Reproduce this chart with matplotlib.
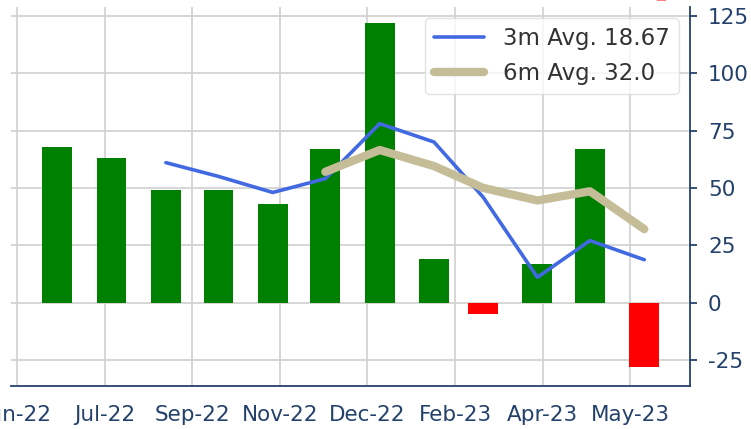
import matplotlib
matplotlib.use("Agg")
import matplotlib.pyplot as plt
import matplotlib.dates as mdates
import matplotlib.ticker as mticker
import pandas as pd
import numpy as np

# ---- data ----
months = ["2022-06-30", "2022-07-31", "2022-08-31", "2022-09-30", "2022-10-31", "2022-11-30",
          "2022-12-31", "2023-01-31", "2023-02-28", "2023-03-31", "2023-04-30", "2023-05-31"]
values = [68, 63, 49, 49, 43, 67, 122, 19, -5, 17, 67, -28]

avg3_months = months[2:]
avg3_values = [61, 55, 48, 54, 78, 70, 46, 11, 27, 18.67]
avg6_months = months[5:]
avg6_values = [57, 66.5, 59.5, 50, 44.5, 48.5, 32.0]

label3 = "3m Avg. 18.67"
label6 = "6m Avg. 32.0"

NAVY = "#24416B"

plt.rcParams['font.family'] = ['DejaVu Sans']
plt.rcParams['axes.unicode_minus'] = False

fig = plt.figure(figsize=(7.51, 4.29), dpi=100)
ax = fig.add_axes([0.0153, 0.1002, 0.9188 - 0.0153, 0.9844 - 0.1002])

x = pd.to_datetime(months)
colors = ["green" if v >= 0 else "red" for v in values]
ax.bar(x, values, width=17, color=colors, zorder=2)

ax.plot(pd.to_datetime(avg3_months), avg3_values, color="#4169E1", lw=2.6,
        label=label3, zorder=3, solid_capstyle='round')
ax.plot(pd.to_datetime(avg6_months), avg6_values, color="#C5BD98", lw=6,
        label=label6, zorder=3, solid_capstyle='round')

ax.set_ylim(-36.4, 129)
ax.xaxis.set_major_locator(mticker.MultipleLocator(50))
ax.xaxis.set_major_formatter(mdates.DateFormatter('%b-%y'))

ax.yaxis.tick_right()
ax.yaxis.set_major_locator(mticker.MultipleLocator(25))
ax.grid(True, color="#D0D0D0", lw=1.2, zorder=0)
ax.set_axisbelow(True)

for s in ["left", "top"]:
    ax.spines[s].set_visible(False)
for s in ["right", "bottom"]:
    ax.spines[s].set_color(NAVY)
    ax.spines[s].set_linewidth(1.3)

ax.tick_params(axis='y', colors=NAVY, labelsize=15.5, length=5, width=1.3, pad=8)
ax.tick_params(axis='x', colors=NAVY, labelsize=15.5, length=0, pad=14)

leg = ax.legend(loc="upper right", fontsize=16.5, framealpha=0.8,
                edgecolor="#DDDDDD", handlelength=2.2, borderaxespad=0.5)
for t in leg.get_texts():
    t.set_color("#333333")

fig.text(0.880, 0.988, "1", color="#FF8080", fontsize=16, ha="center", va="bottom")

fig.savefig("out.png", dpi=100)
